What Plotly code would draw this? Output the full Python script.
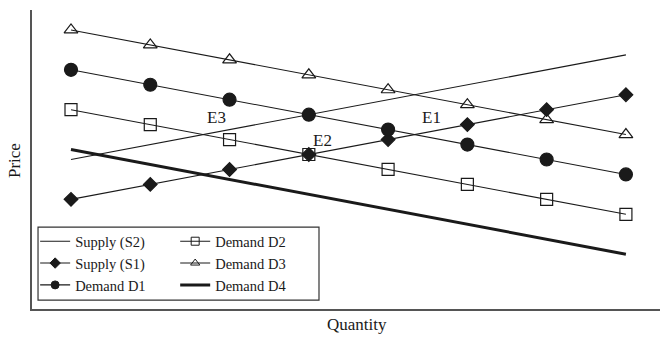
import plotly.graph_objects as go

quantity = [1, 2, 3, 4, 5, 6, 7, 8]
supply_s2 = [15.0, 16.5, 18.0, 19.5, 21.0, 22.5, 24.0, 25.5]
supply_s1 = [11.0, 12.5, 14.0, 15.5, 17.0, 18.5, 20.0, 21.5]
demand_d1 = [24.0, 22.5, 21.0, 19.5, 18.0, 16.5, 15.0, 13.5]
demand_d2 = [20.0, 18.5, 17.0, 15.5, 14.0, 12.5, 11.0, 9.5]
demand_d3 = [28.0, 26.5, 25.0, 23.5, 22.0, 20.5, 19.0, 17.5]
demand_d4 = [16.0, 14.5, 13.0, 11.5, 10.0, 8.5, 7.0, 5.5]

FONT = "Liberation Serif"
INK = "#1a1a1a"

series = [
    # name, values, mode, symbol, size, line width, legend
    ("Supply (S2)", supply_s2, "lines", None, 0, 1.1, "legend"),
    ("Supply (S1)", supply_s1, "lines+markers", "diamond", 10.5, 1.1, "legend"),
    ("Demand D1", demand_d1, "lines+markers", "circle", 13, 1.1, "legend"),
    ("Demand D2", demand_d2, "lines+markers", "square-open", 12, 1.1, "legend2"),
    ("Demand D3", demand_d3, "lines+markers", "triangle-up-open", 12, 1.1, "legend2"),
    ("Demand D4", demand_d4, "lines", None, 0, 3, "legend2"),
]

fig = go.Figure()
for name, vals, mode, sym, size, lw, leg in series:
    marker = dict(color=INK)
    if sym:
        marker = dict(symbol=sym, size=size, color=INK, line=dict(color=INK, width=1.2))
    fig.add_trace(go.Scatter(x=quantity, y=vals, mode=mode, name=name,
                             line=dict(color=INK, width=lw), marker=marker,
                             showlegend=False, cliponaxis=False))
# legend entries with small symbols
for name, vals, mode, sym, size, lw, leg in series:
    marker = dict(color=INK)
    if sym:
        marker = dict(symbol=sym, size=8, color=INK, line=dict(color=INK, width=1))
    fig.add_trace(go.Scatter(x=[None], y=[None], mode=mode, name=name,
                             line=dict(color=INK, width=lw), marker=marker,
                             legend=leg, showlegend=True))

legend_common = dict(font=dict(family=FONT, size=14.5, color=INK),
                     bgcolor="rgba(0,0,0,0)", borderwidth=0,
                     xanchor="left", yanchor="top", itemwidth=30,
                     tracegroupgap=0)

fig.update_layout(
    width=660, height=339,
    margin=dict(l=32, r=0, t=10, b=30),
    paper_bgcolor="white", plot_bgcolor="white",
    xaxis=dict(range=[0.508, 8.43], showgrid=False, zeroline=False,
               showticklabels=False, ticks="", showline=True,
               linecolor="#555555", linewidth=1.5),
    yaxis=dict(range=[0, 30], showgrid=False, zeroline=False,
               showticklabels=False, ticks="", showline=True,
               linecolor="#555555", linewidth=1.5),
    legend=dict(x=0.005, y=0.28, **legend_common),
    legend2=dict(x=0.228, y=0.28, **legend_common),
    shapes=[dict(type="rect", xref="paper", yref="paper",
                 x0=0.0096, x1=0.457, y0=0.030, y1=0.274,
                 line=dict(color="#333333", width=1.2),
                 fillcolor="white", layer="below")],
    annotations=[
        dict(text="Price", xref="paper", yref="paper", x=-0.0287, y=0.498,
             xanchor="center", yanchor="middle",
             textangle=-90, showarrow=False,
             font=dict(family=FONT, size=17, color=INK)),
        dict(text="Quantity", xref="paper", yref="paper", x=0.5175, y=-0.0535,
             xanchor="center", yanchor="middle",
             showarrow=False, font=dict(family=FONT, size=17, color=INK)),
        dict(text="E3", x=2.84, y=19.2, showarrow=False,
             xanchor="center", yanchor="middle",
             font=dict(family=FONT, size=17, color=INK)),
        dict(text="E2", x=4.17, y=16.95, showarrow=False,
             xanchor="center", yanchor="middle",
             font=dict(family=FONT, size=17, color=INK)),
        dict(text="E1", x=5.55, y=19.26, showarrow=False,
             xanchor="center", yanchor="middle",
             font=dict(family=FONT, size=17, color=INK)),
    ],
)

fig.write_html("out.html", config={"displayModeBar": False},
               post_script="document.body.style.margin='0';")
